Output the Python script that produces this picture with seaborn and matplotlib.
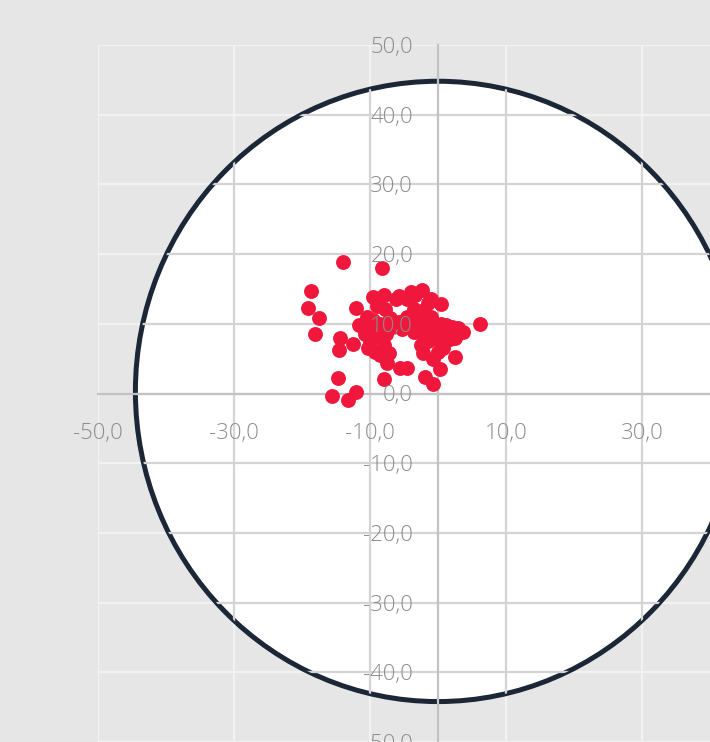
import matplotlib.pyplot as plt
import seaborn as sns
from matplotlib.patches import Ellipse

# --- data ---------------------------------------------------------------
pts_x = [
    # scattered points
    -14.0, -8.2, -18.7, -19.1, -17.5, -18.1, -12.1, -9.6, -14.4, -14.5,
    -12.5, -11.6, -14.7, -15.6, -13.3, -12.0, -9.3, -8.0, -7.5, -2.4,
    -3.4, 0.5, 6.2, 3.0, 3.7, 2.5, 0.5, -0.7, 0.3, -4.6,
    -5.6, -1.9, -0.7,
    # dense core
    -10.5, -10.8, -10.3, -9.0, -8.0, -7.8, -5.7, -3.6, -5.7, -8.5,
    -7.6, -8.0, -7.2, -9.0, -4.0, -2.0, -1.0, -4.5, -3.0, -1.5,
    0.5, 2.0, 1.0, -0.5, -2.5, -5.3, -3.5, -7.0, -1.0, 1.8,
    -2.2, 0.0, -9.5, -6.8, -4.0, -2.5, -1.8, -0.3, 1.2, -6.2,
    -8.8, -2.8, -1.5, 0.8, -9.8, -10.0, -4.5, -1.5, 2.5, -8.5,
]
pts_y = [
    18.8, 18.0, 14.7, 12.2, 10.8, 8.5, 12.3, 13.9, 8.0, 6.3,
    7.1, 9.8, 2.2, -0.4, -1.0, 0.2, 5.9, 2.1, 4.4, 14.9,
    14.2, 12.9, 9.9, 9.4, 8.8, 5.2, 7.3, 4.9, 3.5, 3.7,
    3.7, 2.3, 1.4,
    11.0, 8.5, 6.5, 12.5, 14.2, 12.1, 14.0, 12.1, 10.3, 10.0,
    8.5, 7.0, 5.8, 8.2, 14.5, 12.0, 11.0, 11.0, 10.0, 9.5,
    10.0, 9.5, 8.5, 8.0, 7.0, 9.3, 8.8, 10.8, 13.5, 7.8,
    5.8, 6.0, 10.5, 9.5, 10.5, 11.5, 10.5, 9.3, 9.8, 13.5,
    13.2, 8.8, 7.5, 6.5, 9.3, 7.5, 13.5, 13.0, 8.0, 5.5,
]
circle_radius = 44.5
x_ticks = [-50, -30, -10, 10, 30]
y_ticks = [50, 40, 30, 20, 10, 0, -10, -20, -30, -40, -50]

# --- style --------------------------------------------------------------
sns.set_theme(style="white")
plt.rcParams["font.family"] = ["Open Sans", "DejaVu Sans"]

bg = "#e6e6e6"
label_col = "#8c8c8c"

fig = plt.figure(figsize=(7.10, 7.42), dpi=100, facecolor=bg)
ax = fig.add_axes([98 / 710, 0, 612 / 710, 697 / 742])
ax.set_facecolor(bg)
ax.set_xlim(-50, 40)
ax.set_ylim(-49.0, 50)
ax.set_xticks(x_ticks)
ax.set_yticks(y_ticks)

# white disc with dark rim
disc = Ellipse((0, 0.3), 2 * circle_radius, 2 * circle_radius,
               facecolor="white", edgecolor="#1b2636", linewidth=3.6, zorder=1)
ax.add_patch(disc)

# grid: light on the grey background, darker inside the disc
for xv in x_ticks:
    ax.axvline(xv, color="#f2f2f2", linewidth=1.6, zorder=0.5)
    ln = ax.axvline(xv, color="#d4d4d4", linewidth=1.6, zorder=1.5)
    ln.set_clip_path(disc)
for yv in y_ticks:
    ax.axhline(yv, color="#f2f2f2", linewidth=1.6, zorder=0.5)
    ln = ax.axhline(yv, color="#d4d4d4", linewidth=1.6, zorder=1.5)
    ln.set_clip_path(disc)

# axes through the origin
for side in ["top", "right"]:
    ax.spines[side].set_visible(False)
for side in ["left", "bottom"]:
    ax.spines[side].set_position("zero")
    ax.spines[side].set_color("#c2c2c2")
    ax.spines[side].set_linewidth(1.6)
    ax.spines[side].set_zorder(1.8)

sns.scatterplot(x=pts_x, y=pts_y, ax=ax, color="#f0173d", s=115,
                linewidth=0, zorder=2)

ax.set_xticklabels([f"{v:.1f}".replace(".", ",") for v in x_ticks])
ax.set_yticklabels([f"{v:.1f}".replace(".", ",") for v in y_ticks])
ax.tick_params(axis="x", length=0, pad=21, labelsize=16, labelcolor=label_col)
ax.tick_params(axis="y", length=0, pad=18, labelsize=16, labelcolor=label_col)
for lbl in ax.get_xticklabels() + ax.get_yticklabels():
    lbl.set_fontweight("light")
ax.xaxis.set_zorder(4)
ax.yaxis.set_zorder(4)

fig.savefig("out.png", dpi=100, facecolor=bg)
